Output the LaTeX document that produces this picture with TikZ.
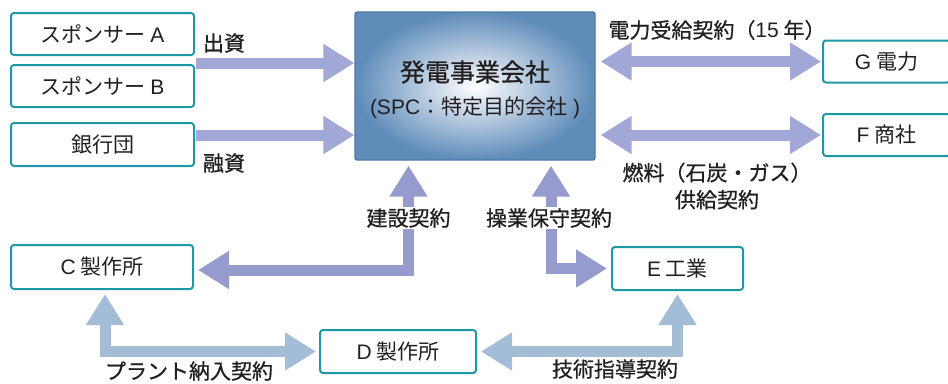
\documentclass[tikz,border=0pt]{standalone}
\usepackage{fontspec}
\setmainfont{Noto Sans CJK JP}
\newfontfamily\lblfont[FakeBold=0.8]{Noto Sans CJK JP}
\newfontfamily\latf{Liberation Sans}
\newcommand{\lat}[1]{{\latf #1}}
\usetikzlibrary{arrows.meta,calc}
\definecolor{txt}{HTML}{231F20}
\definecolor{teal}{HTML}{1E98A5}
\definecolor{lav}{HTML}{A1A7D6}
\definecolor{lavd}{HTML}{969BCD}
\definecolor{grayblue}{HTML}{A3BDD6}
\definecolor{spcout}{HTML}{5F8CB9}
\definecolor{spcedge}{HTML}{4C79A4}
\tikzset{
  entity/.style={draw=teal, line width=2pt, rounded corners=3pt, fill=white,
    font=\fontsize{21}{23}\selectfont, text=txt, inner sep=0pt},
  lbl/.style={font=\lblfont\fontsize{21}{27}\selectfont, text=txt, inner sep=1pt},
  fat/.style={line width=11pt, line join=miter},
  onehead/.style={fat, -{Triangle[length=31pt,width=36pt]}},
  twohead/.style={fat, {Triangle[length=31pt,width=36pt]}-{Triangle[length=31pt,width=36pt]}},
}
\begin{document}
\begin{tikzpicture}[x=1pt,y=-1pt]
\useasboundingbox (0,0) rectangle (948,383);
% entities
\node[entity, minimum width=183pt, minimum height=42pt] (sA) at (102.5,34) {スポンサー \lat{A}};
\node[entity, minimum width=183pt, minimum height=42pt] (sB) at (102.5,86) {スポンサー \lat{B}};
\node[entity, minimum width=183pt, minimum height=43pt] (bank) at (102.5,144.5) {銀行団};
\node[draw=spcedge, line width=1.2pt, rounded corners=2pt, inner color=white, outer color=spcout,
  minimum width=240pt, minimum height=148pt] (spc) at (475,86) {};
\node[font=\lblfont\fontsize{25}{27}\selectfont, text=txt] (t1) at (475,72) {発電事業会社};
\node[font=\fontsize{21}{23}\selectfont, text=txt] (t2) at (475,108) {\lat{(SPC}：特定目的会社\lat{ )}};
\node[entity, minimum width=127pt, minimum height=42pt] (G) at (886.5,61.5) {\lat{G} 電力};
\node[entity, minimum width=127pt, minimum height=42pt] (F) at (886.5,135) {\lat{F} 商社};
\node[entity, minimum width=182pt, minimum height=44pt] (C) at (102,267) {\lat{C} 製作所};
\node[entity, minimum width=156pt, minimum height=43pt] (D) at (398,351.5) {\lat{D} 製作所};
\node[entity, minimum width=131pt, minimum height=43pt] (E) at (677.5,268.5) {\lat{E} 工業};
% helper coordinates
\coordinate (a1) at (196,63);
\coordinate (a2) at (196,135);
\coordinate (k1) at (408.5,0);
\coordinate (k2) at (551,0);
\coordinate (h1) at (0,270);
\coordinate (v1) at (105,0);
% arrows
\draw[onehead, lav] (a1) -- (spc.west |- a1);
\draw[onehead, lav] (a2) -- (spc.west |- a2);
\draw[twohead, lav] ([xshift=5pt]spc.east |- G.west) -- ([xshift=-1pt]G.west);
\draw[twohead, lav] ([xshift=5pt]spc.east |- F.west) -- ([xshift=-1pt]F.west);
\draw[twohead, lavd] ([xshift=4pt]C.east |- h1) -| ([yshift=-5pt]spc.south -| k1);
\draw[twohead, lavd] ([yshift=-5pt]spc.south -| k2) |- ([xshift=-4pt]E.west);
\draw[twohead, grayblue] ([yshift=-4pt]C.south -| v1) |- ([xshift=-3pt]D.west);
\draw[twohead, grayblue] ([xshift=4pt]D.east) -| ([yshift=-3pt]E.south);
% labels
\node[lbl] (l1) at (224,43) {出資};
\node[lbl] (l2) at (224,163) {融資};
\node[lbl] (l3) at (717,30) {電力受給契約（\lat{15} 年）};
\node[lbl, align=center] (l4) at (717,186) {燃料（石炭・ガス）\\供給契約};
\node[lbl, fill=white] (l5) at (408.5,218) {建設契約};
\node[lbl, fill=white] (l6) at (549,218) {操業保守契約};
\node[lbl] (l7) at (189,371) {プラント納入契約};
\node[lbl] (l8) at (615,369) {技術指導契約};
\end{tikzpicture}
\end{document}
